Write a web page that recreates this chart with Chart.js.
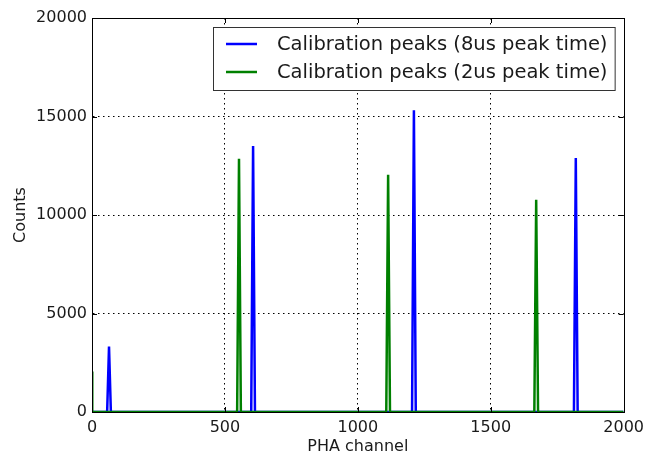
<!DOCTYPE html>
<html>
<head>
<meta charset="utf-8">
<script src="https://cdn.jsdelivr.net/npm/chart.js@4/dist/chart.umd.min.js"></script>
<style>
  html, body { margin: 0; padding: 0; background: #fff; }
  #wrap { width: 650px; height: 457px; position: relative; }
</style>
</head>
<body>
<div id="wrap"><canvas id="c" width="650" height="457"></canvas></div>
<script>
// Peak positions (PHA channel) and peak heights (counts) for each shaping time
const peaks8usChannels = [64, 606, 1211, 1820];
const peaks8usCounts   = [3320, 13500, 15320, 12890];
const peaks2usChannels = [0, 553, 1114, 1671];
const peaks2usCounts   = [2050, 12850, 12040, 10770];

const seriesLabels = ['Calibration peaks (8us peak time)', 'Calibration peaks (2us peak time)'];
const xTicks = [0, 500, 1000, 1500, 2000];
const yTicks = [0, 5000, 10000, 15000, 20000];

const channelMin = 0, channelMax = 2000;
const halfWidth = 7; // half width of each narrow peak, in channels

// Build a spectrum trace: flat baseline with a narrow peak at each channel
function spectrum(channels, counts) {
  const pts = [];
  channels.forEach((c, i) => {
    if (c > channelMin) {
      if (pts.length === 0) pts.push({ x: channelMin, y: 0 });
      pts.push({ x: c - halfWidth, y: 0 });
    }
    pts.push({ x: c, y: counts[i] });
    pts.push({ x: c + (c === channelMin ? 1 : halfWidth), y: 0 });
  });
  pts.push({ x: channelMax, y: 0 });
  return pts;
}

const FONT = 'DejaVu Sans';
const TEXT = '#1a1a1a';

// Frame, inward tick marks and boxed legend
const framePlugin = {
  id: 'frame',
  afterDatasetsDraw(chart) {
    const { ctx, chartArea: a, scales } = chart;
    ctx.save();
    ctx.strokeStyle = '#000';
    ctx.lineWidth = 1;
    ctx.strokeRect(Math.round(a.left) + 0.5, Math.round(a.top) + 0.5,
                   Math.round(a.right - a.left), Math.round(a.bottom - a.top));
    const tl = 5;
    ctx.beginPath();
    xTicks.forEach(v => {
      const x = Math.round(scales.x.getPixelForValue(v)) + 0.5;
      ctx.moveTo(x, a.bottom); ctx.lineTo(x, a.bottom - tl);
      ctx.moveTo(x, a.top); ctx.lineTo(x, a.top + tl);
    });
    yTicks.forEach(v => {
      const y = Math.round(scales.y.getPixelForValue(v)) + 0.5;
      ctx.moveTo(a.left, y); ctx.lineTo(a.left + tl, y);
      ctx.moveTo(a.right, y); ctx.lineTo(a.right - tl, y);
    });
    ctx.stroke();
    ctx.restore();
  },
  afterDraw(chart) {
    const { ctx, chartArea: a } = chart;
    const ds = chart.data.datasets;
    const boxRight = a.right - 8.5, boxTop = a.top + 9.5;
    const boxLeft = 213.5, boxBottom = 90.5;
    ctx.save();
    ctx.fillStyle = '#fff';
    ctx.fillRect(boxLeft, boxTop, boxRight - boxLeft, boxBottom - boxTop);
    ctx.strokeStyle = '#333';
    ctx.lineWidth = 1;
    ctx.strokeRect(boxLeft, boxTop, boxRight - boxLeft, boxBottom - boxTop);
    ctx.font = '19.5px "' + FONT + '"';
    ctx.textBaseline = 'middle';
    ctx.fillStyle = TEXT;
    const rows = [44, 72];
    ds.forEach((d, i) => {
      const y = rows[i];
      ctx.strokeStyle = d.borderColor;
      ctx.lineWidth = 2.5;
      ctx.beginPath();
      ctx.moveTo(226, y); ctx.lineTo(257, y);
      ctx.stroke();
      ctx.fillText(d.label, 277, y + 1);
    });
    ctx.restore();
  }
};

const gridColor = (ctx) => {
  const v = ctx.tick && ctx.tick.value;
  return (v === undefined || ctx.index === 0 || ctx.index === ctx.scale.ticks.length - 1)
    ? 'rgba(0,0,0,0)' : '#000';
};

const plainNumber = (value) => String(value);

new Chart(document.getElementById('c'), {
  type: 'line',
  data: {
    datasets: [
      {
        label: seriesLabels[0],
        data: spectrum(peaks8usChannels, peaks8usCounts),
        borderColor: '#0000ff',
        borderWidth: 2.5,
        pointRadius: 0,
        tension: 0,
        order: 2
      },
      {
        label: seriesLabels[1],
        data: spectrum(peaks2usChannels, peaks2usCounts),
        borderColor: '#008000',
        borderWidth: 2.5,
        pointRadius: 0,
        tension: 0,
        order: 1
      }
    ]
  },
  options: {
    responsive: false,
    animation: false,
    parsing: false,
    layout: { padding: { top: 18, right: 22, left: 0, bottom: 0 } },
    plugins: {
      legend: { display: false },
      tooltip: { enabled: false }
    },
    scales: {
      x: {
        type: 'linear',
        min: channelMin,
        max: channelMax,
        afterBuildTicks(scale) { scale.ticks = xTicks.map(v => ({ value: v })); },
        afterFit(scale) { scale.height = 45; },
        ticks: {
          color: TEXT,
          font: { family: FONT, size: 16 },
          padding: 6,
          maxRotation: 0,
          autoSkip: false,
          callback: plainNumber
        },
        grid: {
          drawTicks: false,
          color: gridColor,
          lineWidth: 1
        },
        border: { display: true, color: '#000', dash: [1.5, 3.5] },
        title: {
          display: true,
          text: 'PHA channel',
          color: TEXT,
          font: { family: FONT, size: 16 },
          padding: { top: 0, bottom: 1 }
        }
      },
      y: {
        type: 'linear',
        min: 0,
        max: 20000,
        afterBuildTicks(scale) { scale.ticks = yTicks.map(v => ({ value: v })); },
        afterFit(scale) { scale.width = 92; },
        ticks: {
          color: TEXT,
          font: { family: FONT, size: 16 },
          padding: 5,
          autoSkip: false,
          callback: plainNumber
        },
        grid: {
          drawTicks: false,
          color: gridColor,
          lineWidth: 1
        },
        border: { display: true, color: '#000', dash: [1.5, 3.5] },
        title: {
          display: true,
          text: 'Counts',
          color: TEXT,
          font: { family: FONT, size: 16 },
          padding: { top: 11, bottom: 0 }
        }
      }
    }
  },
  plugins: [framePlugin]
});
</script>
</body>
</html>
